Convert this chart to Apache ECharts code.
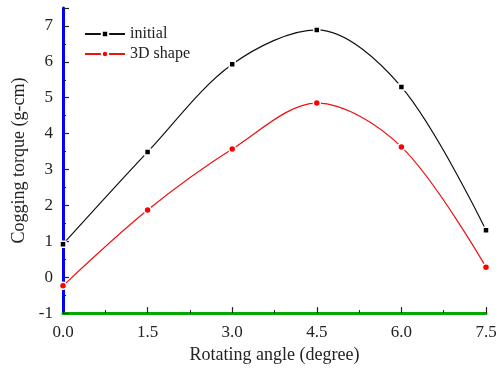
<!DOCTYPE html>
<html><head><meta charset="utf-8">
<script src="https://cdn.jsdelivr.net/npm/echarts@6/dist/echarts.min.js"></script>
<style>html,body{margin:0;padding:0;background:#fff}#c{width:502px;height:369px}</style>
</head><body><div id="c"></div>
<script>
const angles = [0, 1.5, 3.0, 4.5, 6.0, 7.5];
const initialVals = [0.92, 3.49, 5.93, 6.89, 5.30, 1.31];
const shapeVals = [-0.24, 1.87, 3.57, 4.85, 3.63, 0.28];
const seriesNames = ['initial', '3D shape'];
const xName = 'Rotating angle (degree)';
const yName = 'Cogging torque (g-cm)';

const font = 'Liberation Serif';
const chart = echarts.init(document.getElementById('c'));
function axisBase(lineColor) {
  return {
    axisLine: {show: true, onZero: false, lineStyle: {color: lineColor, width: 3}},
    axisTick: {show: true, inside: true, length: 6, lineStyle: {color: '#222', width: 1.2}},
    minorTick: {show: true, splitNumber: 2, length: 3, lineStyle: {color: '#222', width: 1}},
    splitLine: {show: false},
    nameTextStyle: {fontFamily: font, fontSize: 18, color: '#222'}
  };
}
chart.setOption({
  animation: false,
  grid: {left: 63, right: 16, top: 8, bottom: 54},
  legend: {
    orient: 'vertical', left: 79, top: 21, itemGap: 4, itemWidth: 40, itemHeight: 8,
    textStyle: {fontFamily: font, fontSize: 16, color: '#222'},
    data: seriesNames
  },
  xAxis: Object.assign(axisBase('#00aa00'), {
    type: 'value', position: 'bottom', min: 0, max: 7.5, interval: 1.5,
    name: xName, nameLocation: 'middle', nameGap: 30,
    axisLabel: {fontFamily: font, fontSize: 17, color: '#222', margin: 11,
      formatter: v => v.toFixed(1)}
  }),
  yAxis: Object.assign(axisBase('#0000ff'), {
    type: 'value', position: 'left', min: -1, max: 7.5, interval: 1,
    name: yName, nameLocation: 'middle', nameGap: 29,
    axisLabel: {fontFamily: font, fontSize: 17, color: '#222', margin: 10,
      formatter: v => Number.isInteger(v) ? String(v) : ''}
  }),
  series: [
    {
      name: seriesNames[0], type: 'line', smooth: 0.33,
      data: angles.map((a, i) => [a, initialVals[i]]),
      symbol: 'rect', symbolSize: 6,
      lineStyle: {color: '#111', width: 1.2},
      itemStyle: {color: '#000', borderColor: '#fff', borderWidth: 1.5}
    },
    {
      name: seriesNames[1], type: 'line', smooth: 0.33,
      data: angles.map((a, i) => [a, shapeVals[i]]),
      symbol: 'circle', symbolSize: 7,
      lineStyle: {color: '#ee1111', width: 1.2},
      itemStyle: {color: '#ff0000', borderColor: '#fff', borderWidth: 1.5}
    }
  ]
});
</script></body></html>
